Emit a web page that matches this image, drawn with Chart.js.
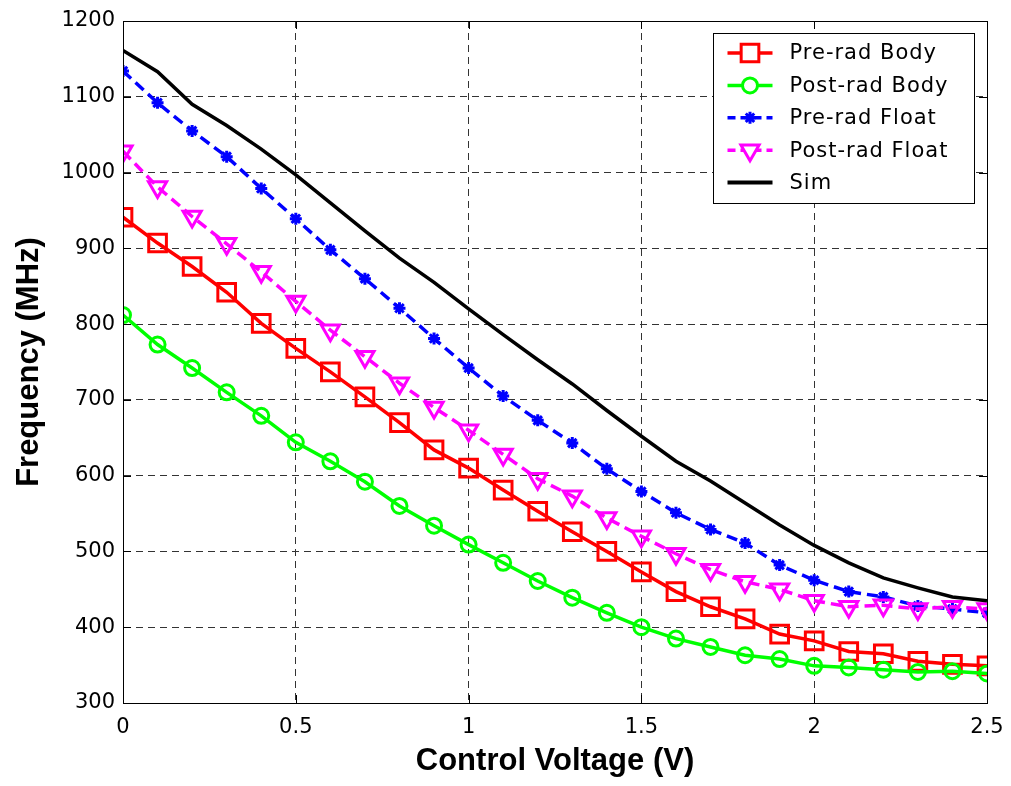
<!DOCTYPE html>
<html>
<head>
<meta charset="utf-8">
<script src="https://cdn.jsdelivr.net/npm/chart.js@4"></script>
<style>
  html, body { margin: 0; padding: 0; background: #fff; }
  #wrap { width: 1011px; height: 786px; position: relative; }
</style>
</head>
<body>
<div id="wrap"><canvas id="c" width="1011" height="786"></canvas></div>
<script>
const voltage = [0, 0.1, 0.2, 0.3, 0.4, 0.5, 0.6, 0.7, 0.8, 0.9, 1.0, 1.1, 1.2, 1.3, 1.4, 1.5, 1.6, 1.7, 1.8, 1.9, 2.0, 2.1, 2.2, 2.3, 2.4, 2.5];
const preRadBody   = [941, 907, 876, 842, 801, 768, 737, 704, 670, 634, 610, 581, 553, 526, 500, 473, 447, 427, 411, 391, 382, 368, 365, 355, 351, 349];
const postRadBody  = [812, 773, 742, 710, 679, 644, 619, 592, 560, 534, 509, 485, 461, 439, 419, 400, 385, 374, 363, 358, 349, 347, 344, 341, 342, 339];
const preRadFloat  = [1134, 1092, 1055, 1021, 979, 939, 898, 860, 821, 781, 742, 705, 673, 643, 609, 579, 551, 529, 511, 482, 462, 447, 440, 428, 424, 419];
const postRadFloat = [1028, 981, 942, 906, 869, 830, 792, 757, 722, 690, 660, 628, 596, 573, 544, 520, 497, 476, 460, 450, 435, 427, 429, 424, 427, 424];
const sim          = [1161, 1133, 1090, 1062, 1031, 997, 960, 923, 887, 855, 820, 786, 753, 721, 686, 652, 619, 593, 564, 535, 508, 485, 465, 452, 440, 435];
const seriesNames = ['Pre-rad Body', 'Post-rad Body', 'Pre-rad Float', 'Post-rad Float', 'Sim'];
const xTitle = 'Control Voltage (V)';
const yTitle = 'Frequency (MHz)';

const pts = arr => arr.map((v, i) => ({ x: voltage[i], y: v }));

const datasets = [
  { label: seriesNames[0], data: pts(preRadBody), borderColor: '#ff0000', borderWidth: 3.5,
    pointStyle: 'rect', pointRadius: 12.5, pointBorderWidth: 3, pointBackgroundColor: 'rgba(0,0,0,0)', pointBorderColor: '#ff0000', order: 4 },
  { label: seriesNames[1], data: pts(postRadBody), borderColor: '#00ff00', borderWidth: 3.5,
    pointStyle: 'circle', pointRadius: 7.5, pointBorderWidth: 3, pointBackgroundColor: 'rgba(0,0,0,0)', pointBorderColor: '#00ff00', order: 3 },
  { label: seriesNames[2], data: pts(preRadFloat), borderColor: '#0000ff', borderWidth: 3.5, borderDash: [11, 6],
    pointStyle: 'star', pointRadius: 6, pointBorderWidth: 3, pointBackgroundColor: 'rgba(0,0,0,0)', pointBorderColor: '#0000ff', order: 2 },
  { label: seriesNames[3], data: pts(postRadFloat), borderColor: '#ff00ff', borderWidth: 3.5, borderDash: [11, 6],
    pointStyle: 'triangle', pointRotation: 180, pointRadius: 10.5, pointBorderWidth: 3, pointBackgroundColor: 'rgba(0,0,0,0)', pointBorderColor: '#ff00ff', order: 1 },
  { label: seriesNames[4], data: pts(sim), borderColor: '#000000', borderWidth: 3.5,
    pointRadius: 0, order: 0 }
];

const frameAndLegend = {
  id: 'frameAndLegend',
  afterDatasetsDraw(chart) {
    const { ctx, chartArea: a, scales } = chart;
    ctx.save();
    ctx.setLineDash([]);
    ctx.strokeStyle = '#000';
    ctx.lineWidth = 1;
    ctx.strokeRect(Math.round(a.left) + 0.5, Math.round(a.top) + 0.5, Math.round(a.right - a.left), Math.round(a.bottom - a.top));
    const tl = 8;
    ctx.beginPath();
    scales.x.ticks.forEach(t => {
      const px = Math.round(scales.x.getPixelForValue(t.value)) + 0.5;
      ctx.moveTo(px, a.bottom); ctx.lineTo(px, a.bottom - tl);
      ctx.moveTo(px, a.top); ctx.lineTo(px, a.top + tl);
    });
    scales.y.ticks.forEach(t => {
      const py = Math.round(scales.y.getPixelForValue(t.value)) + 0.5;
      ctx.moveTo(a.left, py); ctx.lineTo(a.left + tl, py);
      ctx.moveTo(a.right, py); ctx.lineTo(a.right - tl, py);
    });
    ctx.stroke();

    // legend
    const bw = 261, bh = 170;
    const bx = Math.round(a.right - 13 - bw) + 0.5;
    const by = Math.round(a.top + 12) + 0.5;
    ctx.fillStyle = '#fff';
    ctx.fillRect(bx, by, bw, bh);
    ctx.strokeStyle = '#000';
    ctx.lineWidth = 1;
    ctx.strokeRect(bx, by, bw, bh);
    const rowH = 32.4;
    chart.data.datasets.forEach((ds, i) => {
      const cy = by + 19.5 + i * rowH;
      const x0 = bx + 14, x1 = bx + 59, mx = (x0 + x1) / 2;
      ctx.save();
      ctx.strokeStyle = ds.borderColor;
      ctx.lineWidth = ds.label === 'Sim' ? 4 : 3.5;
      ctx.setLineDash(ds.borderDash ? [8, 5] : []);
      ctx.beginPath(); ctx.moveTo(x0, cy); ctx.lineTo(x1, cy); ctx.stroke();
      ctx.setLineDash([]);
      if (ds.pointRadius > 0) {
        ctx.fillStyle = '#fff';
        ctx.strokeStyle = ds.pointBorderColor;
        ctx.lineWidth = ds.pointBorderWidth;
        Chart.helpers.drawPoint(ctx, {
          pointStyle: ds.pointStyle, rotation: ds.pointRotation || 0,
          radius: ds.pointRadius, borderWidth: ds.pointBorderWidth
        }, mx, cy);
      }
      ctx.restore();
      ctx.save();
      ctx.fillStyle = '#000';
      ctx.font = '21px "DejaVu Sans"';
      try { ctx.letterSpacing = '1px'; } catch (e) {}
      ctx.textBaseline = 'middle';
      ctx.textAlign = 'left';
      ctx.fillText(ds.label, bx + 76, cy + 1);
      ctx.restore();
    });
    ctx.restore();
  }
};

new Chart(document.getElementById('c'), {
  type: 'line',
  data: { datasets },
  options: {
    responsive: false,
    animation: false,
    devicePixelRatio: 1,
    layout: { padding: { left: 0, right: 24, top: 21, bottom: 0 } },
    plugins: { legend: { display: false }, tooltip: { enabled: false } },
    elements: { line: { tension: 0 } },
    scales: {
      x: {
        type: 'linear', min: 0, max: 2.5,
        afterFit(s) { s.height = 83; s.paddingLeft = 0; s.paddingRight = 0; },
        ticks: { stepSize: 0.5, color: '#000', padding: 12, font: { family: '"DejaVu Sans"', size: 21 },
                 callback: v => String(v) },
        grid: { color: '#333', lineWidth: 1, drawTicks: false },
        border: { display: true, color: '#000', width: 1, dash: [7, 5] },
        title: { display: true, text: xTitle, color: '#000', padding: { top: 0, bottom: 9 },
                 font: { family: '"Liberation Sans", Arial', size: 31, weight: 'bold', lineHeight: 1 } }
      },
      y: {
        type: 'linear', min: 300, max: 1200,
        afterFit(s) { s.width = 123; s.paddingTop = 0; s.paddingBottom = 0; },
        ticks: { stepSize: 100, color: '#000', padding: 8, font: { family: '"DejaVu Sans"', size: 21 },
                 callback: v => String(v) },
        grid: { color: '#333', lineWidth: 1, drawTicks: false },
        border: { display: true, color: '#000', width: 1, dash: [7, 5] },
        title: { display: true, text: yTitle, color: '#000', padding: { top: 14, bottom: 0 },
                 font: { family: '"Liberation Sans", Arial', size: 31, weight: 'bold', lineHeight: 1 } }
      }
    }
  },
  plugins: [frameAndLegend]
});
</script>
</body>
</html>
